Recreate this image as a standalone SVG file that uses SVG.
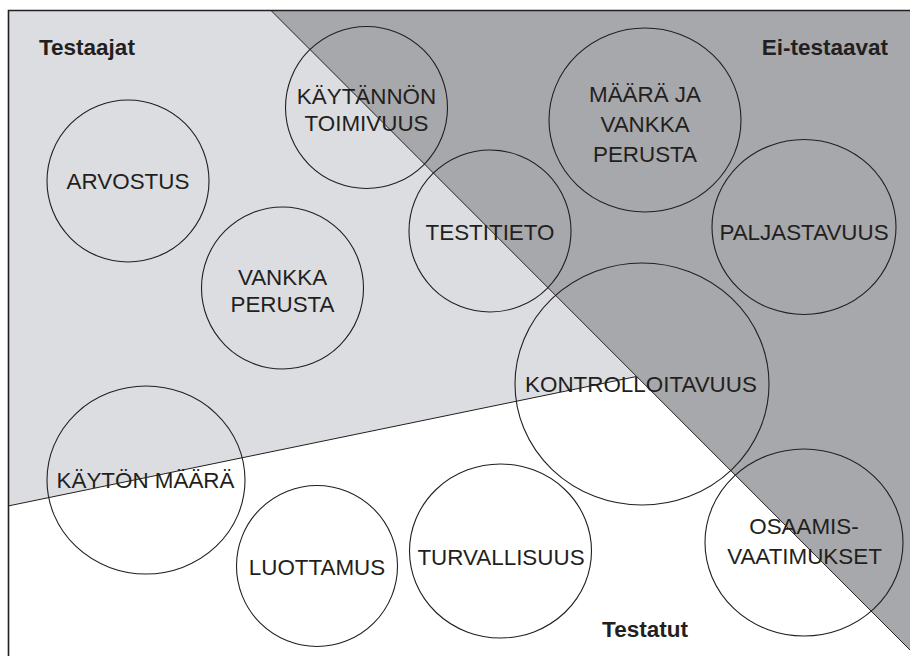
<svg xmlns="http://www.w3.org/2000/svg" width="910" height="656" viewBox="0 0 910 656">
<style>
.c{fill:none;stroke:#231f20;stroke-width:1.1}
.t{font-family:"Liberation Sans",Arial,sans-serif;font-size:22.4px;fill:#231f20;text-anchor:middle}
.b{font-family:"Liberation Sans",Arial,sans-serif;font-size:22.5px;font-weight:bold;fill:#231f20}
.l{fill:none;stroke:#231f20;stroke-width:1}
</style>
<rect x="0" y="0" width="910" height="656" fill="#fff"/>
<g id="regions">
<polygon points="8,10.5 271,10.5 636.5,376.5 8,506" fill="#dcdde0"/>
<polygon points="271,10.5 910,10.5 910,650" fill="#a7a8ab"/>
<line class="l" x1="271" y1="10.5" x2="910" y2="650"/>
<line class="l" x1="8" y1="506" x2="636.5" y2="376.5"/>
<path d="M8.5,656 V10.5 H910" fill="none" stroke="#231f20" stroke-width="1.6"/>
</g>
<g id="labels">
<text class="b" x="39" y="55">Testaajat</text>
<text class="b" x="888" y="55" text-anchor="end">Ei-testaavat</text>
<text class="b" x="645" y="637" text-anchor="middle">Testatut</text>
</g>
<g id="arvostus"><circle class="c" cx="128" cy="181" r="81"/><text class="t" x="128" y="189">ARVOSTUS</text></g>
<g id="kaytannon"><circle class="c" cx="366.5" cy="107.5" r="81"/><text class="t" x="366.5" y="104">KÄYTÄNNÖN</text><text class="t" x="366.5" y="130.5">TOIMIVUUS</text></g>
<g id="vankka"><circle class="c" cx="282.5" cy="288" r="81"/><text class="t" x="282.5" y="285">VANKKA</text><text class="t" x="282.5" y="311.5">PERUSTA</text></g>
<g id="testitieto"><circle class="c" cx="490" cy="231" r="81"/><text class="t" x="490" y="240">TESTITIETO</text></g>
<g id="maara"><ellipse class="c" cx="645" cy="120" rx="96" ry="92"/><text class="t" x="645" y="101.5">MÄÄRÄ JA</text><text class="t" x="645" y="131.5">VANKKA</text><text class="t" x="645" y="161.5">PERUSTA</text></g>
<g id="paljastavuus"><ellipse class="c" cx="804" cy="227" rx="92" ry="87.5"/><text class="t" x="804" y="240">PALJASTAVUUS</text></g>
<g id="kontrolloitavuus"><ellipse class="c" cx="642" cy="384" rx="127" ry="121"/><text class="t" x="641" y="391.5">KONTROLLOITAVUUS</text></g>
<g id="kayton"><ellipse class="c" cx="146" cy="480" rx="99" ry="94"/><text class="t" x="145.5" y="487.5">KÄYTÖN MÄÄRÄ</text></g>
<g id="luottamus"><circle class="c" cx="317" cy="566" r="80.5"/><text class="t" x="317" y="575">LUOTTAMUS</text></g>
<g id="turvallisuus"><ellipse class="c" cx="500.5" cy="551" rx="91" ry="87"/><text class="t" x="501" y="565">TURVALLISUUS</text></g>
<g id="osaamis"><ellipse class="c" cx="804" cy="542.5" rx="99" ry="93.5"/><text class="t" x="804" y="533.5">OSAAMIS-</text><text class="t" x="804.5" y="563.5">VAATIMUKSET</text></g>
</svg>
